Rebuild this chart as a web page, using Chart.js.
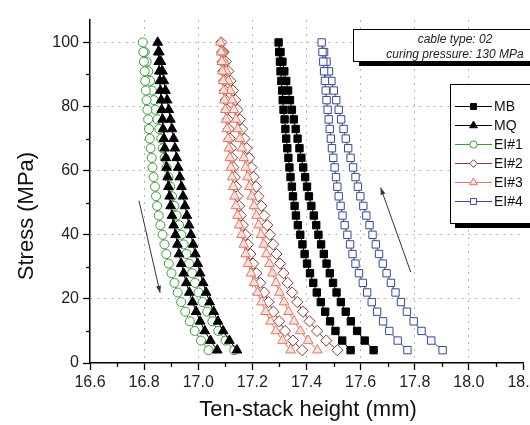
<!DOCTYPE html>
<html><head><meta charset="utf-8">
<script src="https://cdn.jsdelivr.net/npm/chart.js@4"></script>
<style>
html,body{margin:0;padding:0;overflow:hidden;background:#fff;width:530px;height:425px}
#wrap{position:relative;width:600px;height:425px}
</style></head><body>
<div id="wrap"><canvas id="c"></canvas></div>
<script>
// stress levels (MPa), top of loop down to bottom
const stress = [100,97,94,91,88,85,82,79,76,73,70,67,64,61,58,55,52,49,46,43,40,37,34,31,28,25,22,19,16,13,10,7,4];

// ten-stack height (mm) per stress level; load = right branch, unload = left branch
const mbLoad   = [17.297,17.304,17.311,17.318,17.325,17.332,17.339,17.346,17.353,17.360,17.367,17.374,17.381,17.388,17.395,17.402,17.409,17.418,17.427,17.436,17.444,17.454,17.464,17.474,17.486,17.498,17.511,17.527,17.545,17.564,17.587,17.615,17.648];
const mbUnload = [17.297,17.299,17.302,17.304,17.307,17.310,17.312,17.315,17.319,17.322,17.325,17.329,17.333,17.337,17.341,17.346,17.350,17.356,17.361,17.368,17.377,17.385,17.393,17.402,17.413,17.425,17.438,17.453,17.469,17.487,17.507,17.532,17.563];
const mqLoad   = [16.850,16.856,16.862,16.868,16.873,16.879,16.885,16.891,16.897,16.903,16.909,16.914,16.920,16.926,16.932,16.938,16.944,16.951,16.958,16.966,16.973,16.981,16.989,16.998,17.007,17.018,17.029,17.042,17.057,17.073,17.092,17.115,17.143];
const mqUnload = [16.850,16.852,16.854,16.856,16.858,16.860,16.863,16.865,16.868,16.870,16.873,16.876,16.880,16.883,16.887,16.890,16.894,16.898,16.903,16.909,16.916,16.923,16.929,16.937,16.946,16.956,16.967,16.979,16.992,17.007,17.024,17.045,17.070];
const ei1Load   = [16.795,16.802,16.809,16.815,16.822,16.829,16.836,16.842,16.849,16.856,16.863,16.869,16.876,16.883,16.890,16.896,16.903,16.912,16.920,16.929,16.937,16.946,16.956,16.966,16.977,16.988,17.001,17.016,17.033,17.052,17.074,17.101,17.133];
const ei1Unload = [16.795,16.797,16.799,16.802,16.804,16.806,16.809,16.812,16.815,16.818,16.821,16.824,16.828,16.831,16.835,16.840,16.844,16.848,16.854,16.860,16.868,16.875,16.882,16.891,16.901,16.912,16.924,16.937,16.952,16.969,16.987,17.010,17.038];
const ei2Load   = [17.085,17.094,17.102,17.111,17.119,17.128,17.137,17.145,17.154,17.162,17.171,17.179,17.188,17.197,17.205,17.214,17.222,17.233,17.244,17.255,17.265,17.277,17.289,17.302,17.315,17.330,17.347,17.366,17.387,17.411,17.439,17.473,17.514];
const ei2Unload = [17.085,17.088,17.090,17.093,17.096,17.099,17.102,17.106,17.109,17.113,17.117,17.121,17.125,17.130,17.135,17.140,17.145,17.151,17.157,17.165,17.175,17.184,17.193,17.203,17.215,17.229,17.244,17.260,17.278,17.299,17.321,17.350,17.384];
const ei3Load   = [17.082,17.089,17.096,17.104,17.111,17.118,17.125,17.132,17.139,17.146,17.154,17.161,17.168,17.175,17.182,17.189,17.197,17.206,17.215,17.223,17.232,17.242,17.252,17.263,17.274,17.287,17.300,17.317,17.334,17.354,17.377,17.406,17.440];
const ei3Unload = [17.082,17.084,17.087,17.089,17.092,17.094,17.097,17.100,17.103,17.106,17.110,17.113,17.117,17.121,17.125,17.129,17.134,17.139,17.145,17.151,17.160,17.168,17.175,17.184,17.195,17.206,17.219,17.234,17.249,17.267,17.287,17.311,17.341];
const ei4Load   = [17.456,17.465,17.474,17.483,17.492,17.501,17.510,17.519,17.528,17.537,17.545,17.554,17.563,17.572,17.581,17.590,17.599,17.610,17.621,17.633,17.644,17.656,17.668,17.682,17.696,17.712,17.729,17.749,17.771,17.796,17.825,17.861,17.903];
const ei4Unload = [17.456,17.459,17.462,17.465,17.468,17.471,17.474,17.478,17.482,17.486,17.490,17.494,17.499,17.504,17.509,17.514,17.519,17.526,17.533,17.541,17.551,17.561,17.570,17.581,17.594,17.608,17.624,17.641,17.661,17.683,17.706,17.737,17.773];

const seriesNames = ['MB','MQ','EI#1','EI#2','EI#3','EI#4'];
const xTicks = [16.6,16.8,17.0,17.2,17.4,17.6,17.8,18.0,18.2];
const yTicks = [0,20,40,60,80,100];
const xMinor = [16.7,16.9,17.1,17.3,17.5,17.7,17.9,18.1];
const yMinor = [10,30,50,70,90];
const noteLines = ['cable type: 02','curing pressure: 130 MPa'];
// arrows in data coordinates: [x1,y1,x2,y2] from tail to head
const arrows = [[16.781,50.6,16.859,21.9],[17.785,28.4,17.674,54.7]];

const FONT = '"Liberation Sans", Arial, sans-serif';

function loop(load, unload){
  const pts = [];
  for (let i = stress.length - 1; i >= 0; i--) pts.push({x: load[i], y: stress[i]});
  for (let i = 1; i < stress.length; i++) pts.push({x: unload[i], y: stress[i]});
  return pts;
}

const styles = [
  {style:'rect',     r:5.2, bg:'#000000', bc:'#000000', order:1},
  {style:'triangle', r:5.6, bg:'#000000', bc:'#000000', order:2},
  {style:'circle',   r:4.5, bg:'#ffffff', bc:'#3e9b3e', order:3},
  {style:'rectRot',  r:5.6, bg:'#ffffff', bc:'#8a3a36', order:5},
  {style:'triangle', r:5.6, bg:'#fbe1da', bc:'#e07868', order:4},
  {style:'rect',     r:5.2, bg:'#ffffff', bc:'#3a4890', order:6}
];
const loops = [loop(mbLoad,mbUnload), loop(mqLoad,mqUnload), loop(ei1Load,ei1Unload),
               loop(ei2Load,ei2Unload), loop(ei3Load,ei3Unload), loop(ei4Load,ei4Unload)];

const datasets = seriesNames.map((n,i)=>({
  label:n, data:loops[i], showLine:true, borderColor:styles[i].bc, borderWidth:1,
  pointStyle:styles[i].style, pointRadius:styles[i].r, pointBorderWidth:1,
  pointBackgroundColor:styles[i].bg, pointBorderColor:styles[i].bc,
  backgroundColor:styles[i].bg, order:styles[i].order, tension:0
}));

function marker(ctx, st, x, y, r, fill, stroke){
  ctx.save();
  ctx.beginPath();
  if (st === 'circle') { ctx.arc(x,y,r,0,Math.PI*2); }
  else if (st === 'rect') { const s = r*Math.SQRT1_2; ctx.rect(x-s,y-s,2*s,2*s); }
  else if (st === 'rectRot') { const s = r*Math.SQRT1_2*1.2; ctx.moveTo(x,y-s); ctx.lineTo(x+s,y); ctx.lineTo(x,y+s); ctx.lineTo(x-s,y); ctx.closePath(); }
  else if (st === 'triangle') { const w = r*Math.sqrt(3)/2; ctx.moveTo(x,y-r); ctx.lineTo(x+w,y+r/2); ctx.lineTo(x-w,y+r/2); ctx.closePath(); }
  ctx.fillStyle = fill; ctx.fill(); ctx.lineWidth = 1; ctx.strokeStyle = stroke; ctx.stroke();
  ctx.restore();
}

const deco = {
  id:'deco',
  afterDraw(chart){
    const ctx = chart.ctx, xs = chart.scales.x, ys = chart.scales.y;
    const ca = chart.chartArea;
    ctx.save();
    // minor ticks
    ctx.strokeStyle = '#000'; ctx.lineWidth = 1.3;
    xMinor.forEach(v=>{ const p = Math.round(xs.getPixelForValue(v))+0.5; ctx.beginPath(); ctx.moveTo(p, ca.bottom); ctx.lineTo(p, ca.bottom+4); ctx.stroke(); });
    yMinor.forEach(v=>{ const p = Math.round(ys.getPixelForValue(v))+0.5; ctx.beginPath(); ctx.moveTo(ca.left-4, p); ctx.lineTo(ca.left, p); ctx.stroke(); });
    // arrows
    ctx.strokeStyle = '#333'; ctx.fillStyle = '#333'; ctx.lineWidth = 1;
    arrows.forEach(a=>{
      const x1 = xs.getPixelForValue(a[0]), y1 = ys.getPixelForValue(a[1]);
      const x2 = xs.getPixelForValue(a[2]), y2 = ys.getPixelForValue(a[3]);
      ctx.beginPath(); ctx.moveTo(x1,y1); ctx.lineTo(x2,y2); ctx.stroke();
      const ang = Math.atan2(y2-y1, x2-x1), L = 7, W = 2.5;
      ctx.beginPath(); ctx.moveTo(x2,y2);
      ctx.lineTo(x2 - L*Math.cos(ang) + W*Math.sin(ang), y2 - L*Math.sin(ang) - W*Math.cos(ang));
      ctx.lineTo(x2 - L*Math.cos(ang) - W*Math.sin(ang), y2 - L*Math.sin(ang) + W*Math.cos(ang));
      ctx.closePath(); ctx.fill();
    });
    // note box
    ctx.fillStyle = '#000'; ctx.fillRect(359, 34, 200, 32);
    ctx.fillStyle = '#fff'; ctx.fillRect(353, 29, 200, 32);
    ctx.strokeStyle = '#000'; ctx.lineWidth = 1; ctx.strokeRect(353.5, 29.5, 200, 32);
    ctx.fillStyle = '#222'; ctx.font = 'italic 12px ' + FONT; ctx.textAlign = 'center'; ctx.textBaseline = 'middle';
    ctx.fillText(noteLines[0], 455, 40);
    ctx.fillText(noteLines[1], 455, 55);
    // legend box
    ctx.fillStyle = '#000'; ctx.fillRect(455, 89, 100, 139);
    ctx.fillStyle = '#fff'; ctx.fillRect(450, 84, 100, 139);
    ctx.strokeStyle = '#000'; ctx.strokeRect(450.5, 84.5, 100, 139);
    ctx.font = '14px ' + FONT; ctx.textAlign = 'left'; ctx.textBaseline = 'middle';
    seriesNames.forEach((n,i)=>{
      const y = 106 + i*19, s = styles[i];
      ctx.strokeStyle = s.bc; ctx.lineWidth = 1.2;
      ctx.beginPath(); ctx.moveTo(455, y+0.5); ctx.lineTo(492, y+0.5); ctx.stroke();
      marker(ctx, s.style, 473.5, y+0.5, s.r*0.8, s.bg, s.bc);
      ctx.fillStyle = '#111'; ctx.fillText(n, 494, y+1);
    });
    // axis titles
    ctx.fillStyle = '#111'; ctx.font = '22px ' + FONT; ctx.textAlign = 'center'; ctx.textBaseline = 'middle';
    ctx.fillText('Ten-stack height (mm)', 308, 410);
    ctx.save(); ctx.translate(27, 216); ctx.rotate(-Math.PI/2); ctx.fillText('Stress (MPa)', 0, 0); ctx.restore();
    ctx.restore();
  }
};

new Chart(document.getElementById('c'), {
  type:'scatter',
  data:{datasets},
  options:{
    responsive:true, maintainAspectRatio:false, animation:false, devicePixelRatio:1,
    layout:{padding:{top:20, right:77, bottom:0, left:0}},
    plugins:{legend:{display:false}, tooltip:{enabled:false}},
    scales:{
      x:{type:'linear', min:16.6, max:18.2,
        afterBuildTicks: s => { s.ticks = xTicks.map(v=>({value:v})); },
        afterFit: s => { s.height = 62; },
        ticks:{callback: v => Number(v).toFixed(1), font:{size:16, family:FONT}, color:'#222', padding:3, maxRotation:0, autoSkip:false},
        grid:{color: c => (c.tick && (Math.abs(c.tick.value-16.6)<1e-6 || Math.abs(c.tick.value-18.2)<1e-6)) ? 'rgba(0,0,0,0)' : '#b5b5b5',
              lineWidth:1, tickColor:'#000', tickLength:7, tickWidth:1.3},
        border:{display:true, color:'#000', width:1.5, dash:[2,5]}
      },
      y:{type:'linear', min:0, max:107,
        afterBuildTicks: s => { s.ticks = yTicks.map(v=>({value:v})); },
        afterFit: s => { s.width = 90; },
        ticks:{font:{size:16, family:FONT}, color:'#222', padding:4},
        grid:{color: c => (c.tick && c.tick.value === 0) ? 'rgba(0,0,0,0)' : '#b5b5b5',
              lineWidth:1, tickColor:'#000', tickLength:7, tickWidth:1.3},
        border:{display:true, color:'#000', width:1.5, dash:[2,5]}
      }
    }
  },
  plugins:[deco]
});
</script>
</body></html>
